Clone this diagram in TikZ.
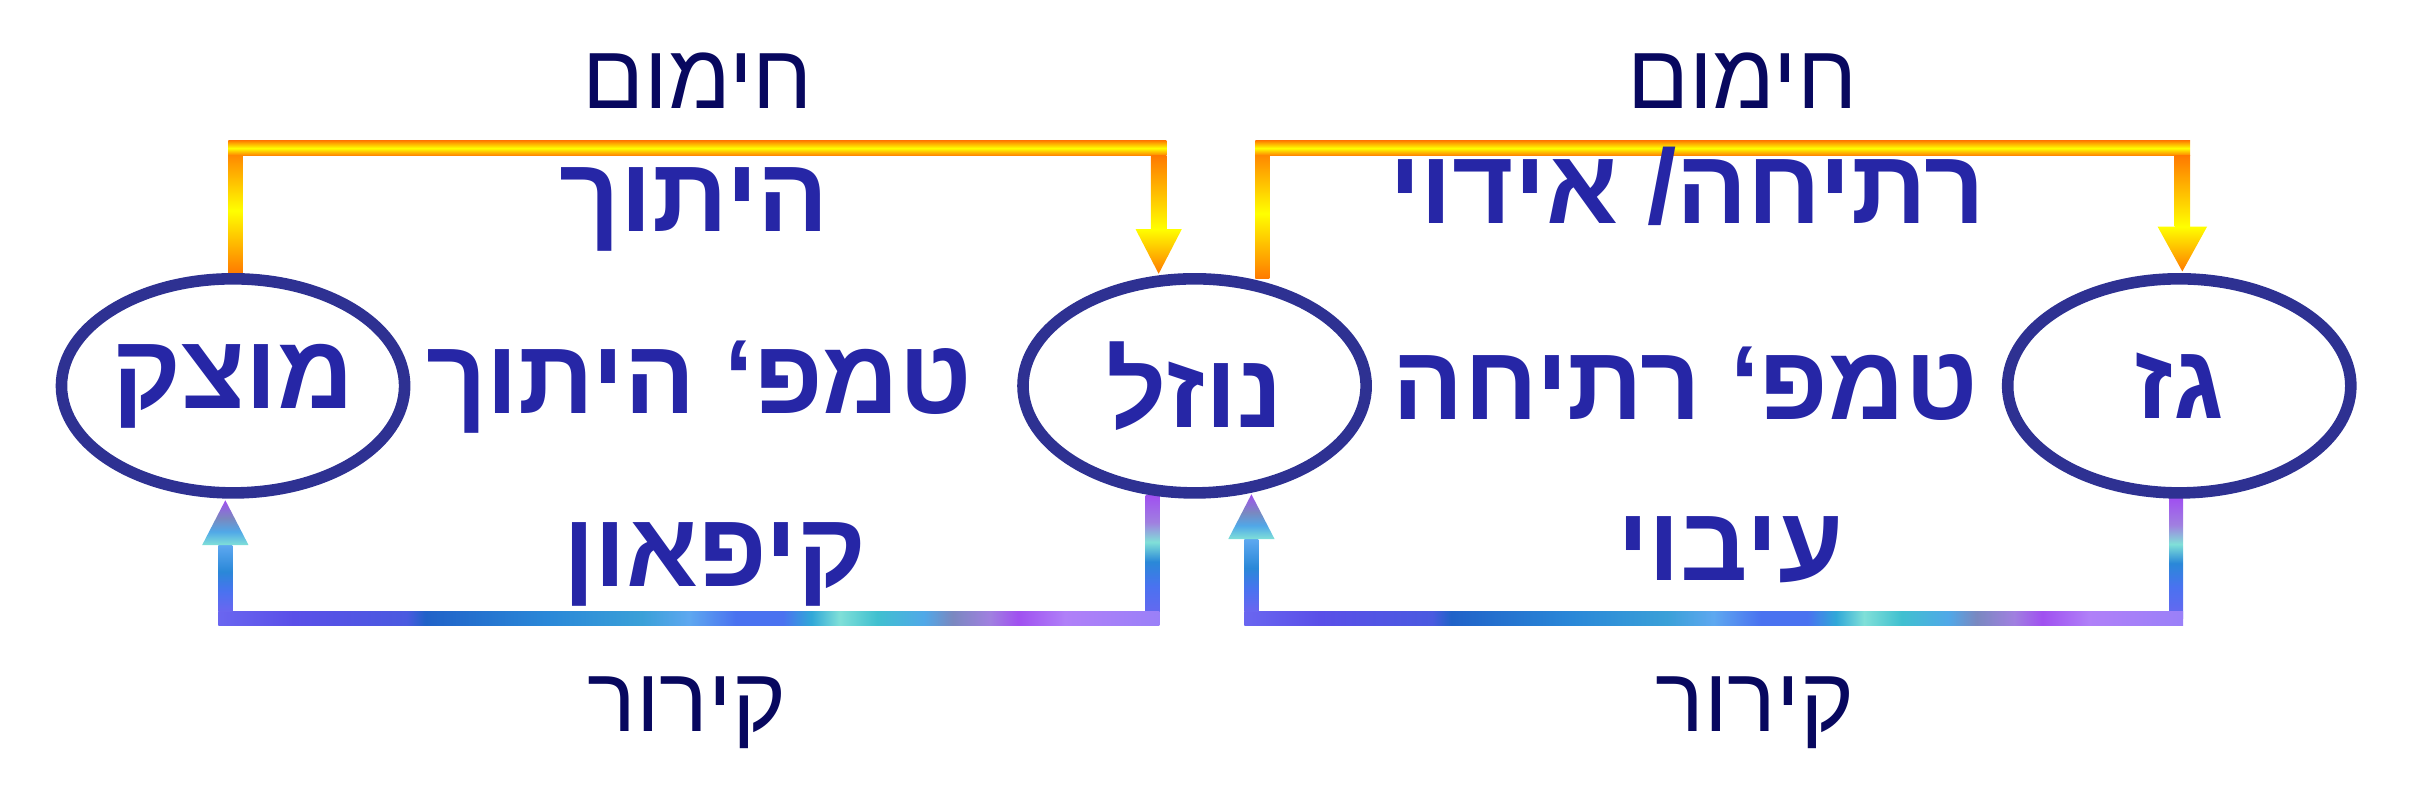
\documentclass[tikz,border=0pt]{standalone}
\usepackage{fontspec}
\newfontfamily\heb[Script=Hebrew]{Liberation Sans}
\TeXXeTstate=1
\usetikzlibrary{calc,shapes.geometric,backgrounds}
\definecolor{ellc}{HTML}{2E3192}
\definecolor{boldc}{HTML}{2626A6}
\definecolor{navyc}{HTML}{08085F}
\definecolor{orng}{HTML}{FF7A00}
\definecolor{yel}{HTML}{FFFF00}
% cool bar colours
\definecolor{b0}{HTML}{6A66F0}
\definecolor{b1}{HTML}{5A4FE8}
\definecolor{b2}{HTML}{4A5AE0}
\definecolor{b3}{HTML}{2062C8}
\definecolor{b4}{HTML}{2A88D8}
\definecolor{b5}{HTML}{3AA0D8}
\definecolor{b6}{HTML}{5EA8F0}
\definecolor{b7}{HTML}{4A72F0}
\definecolor{b8}{HTML}{30A8D8}
\definecolor{b9}{HTML}{80E0D8}
\definecolor{b10}{HTML}{40C0D0}
\definecolor{b11}{HTML}{50A8E8}
\definecolor{b12}{HTML}{7A88C0}
\definecolor{b13}{HTML}{A080E0}
\definecolor{b14}{HTML}{A050F0}
\definecolor{b15}{HTML}{B080F8}
\definecolor{b16}{HTML}{9A80F8}
\pgfdeclarehorizontalshading{coolbar}{100bp}{%
 color(0bp)=(b0); color(25bp)=(b0); color(29bp)=(b1); color(35bp)=(b2);
 color(36bp)=(b3); color(42.5bp)=(b4); color(47.5bp)=(b5); color(50bp)=(b6);
 color(52.5bp)=(b7); color(55bp)=(b7); color(56.5bp)=(b8); color(58bp)=(b9);
 color(60bp)=(b10); color(62.5bp)=(b11); color(64bp)=(b12); color(66bp)=(b13);
 color(67.5bp)=(b14); color(70bp)=(b15); color(75bp)=(b16); color(100bp)=(b16)}
% vertical: 0 = bottom
\pgfdeclareverticalshading{coolup}{100bp}{%
 color(0bp)=(b0); color(25bp)=(b0); color(40bp)=(b7); color(55bp)=(b4);
 color(75bp)=(b6); color(100bp)=(b6)}
\pgfdeclareverticalshading{coolhead}{100bp}{%
 color(0bp)=(b9); color(25bp)=(b9); color(40bp)=(b11); color(55bp)=(b12);
 color(75bp)=(b14); color(100bp)=(b14)}
\pgfdeclareverticalshading{cooldown}{100bp}{%
 color(0bp)=(b0); color(25bp)=(b0); color(38bp)=(b7); color(48bp)=(b4);
 color(56bp)=(b9); color(64bp)=(b13); color(75bp)=(b14); color(100bp)=(b14)}
\begin{document}
\begin{tikzpicture}[x=0.015434cm,y=-0.015434cm,
  stateell/.style={ellipse,draw=ellc,line width=3.3pt,minimum width=3.43cm,
    minimum height=2.14cm,inner sep=0pt,font=\heb\bfseries\fontsize{30}{34}\selectfont,text=boldc},
  boldlbl/.style={anchor=base,inner sep=0pt,font=\heb\bfseries\fontsize{30}{34}\selectfont,text=boldc},
  thinlbl/.style={anchor=base,inner sep=0pt,font=\heb\fontsize{26}{30}\selectfont,text=navyc},
  hotbar/.style={top color=orng,bottom color=orng,middle color=yel},
]
\useasboundingbox (0,0) rectangle (1568,514.4);
% states
\node[stateell] (e1) at (151,250) {\beginR מוצק\endR};
\node[stateell] (e2) at (774,250) {\beginR נוזל\endR};
\node[stateell] (e3) at (1412,250) {\beginR גז\endR};
% labels
\node[thinlbl] (heat1) at (452,70) {\beginR חימום\endR};
\node[boldlbl] (meltup) at (450,150) {\beginR היתוך\endR};
\node[boldlbl] (melt) at (453,268) {\beginR טמפ‘ היתוך\endR};
\node[boldlbl] (freeze) at (463,380) {\beginR קיפאון\endR};
\node[thinlbl] (cool1) at (445,474) {\beginR קירור\endR};
\node[thinlbl] (heat2) at (1129,70) {\beginR חימום\endR};
\node[boldlbl] (boilup) at (1093,145) {\beginR רתיחה/ אידוי\endR};
\node[boldlbl] (boil) at (1092,272) {\beginR טמפ‘ רתיחה\endR};
\node[boldlbl] (cond) at (1121,376) {\beginR עיבוי\endR};
\node[thinlbl] (cool2) at (1137,474) {\beginR קירור\endR};
% levels
\coordinate (topy) at (0,96);
\coordinate (boty) at (0,400.5);
\begin{scope}[on background layer]
% ---- heating: solid -> liquid
\coordinate (a1) at ($(e1.north)+(1.5,0)$);
\coordinate (a2) at (e2.108);
\shade[hotbar] ($(a1)+(-4.5,0)$) rectangle ($(a1|-topy)+(4.5,0)$);
\shade[hotbar] ($(a1|-topy)+(-4.5,-5)$) rectangle ($(a2|-topy)+(5,5)$);
\shade[top color=orng,bottom color=yel] ($(a2|-topy)+(-5,5)$) rectangle ($(a2)+(5,-30)$);
\shade[top color=yel,bottom color=orng] ($(a2)+(-15,-30)$) -- ($(a2)+(15,-30)$) -- ($(a2)+(0,-1)$) -- cycle;
% ---- heating: liquid -> gas
\coordinate (a3) at (e2.57.8);
\coordinate (a4) at ($(e3.north)+(2,0)$);
\shade[hotbar] ($(a3)+(-4.5,-2)$) rectangle ($(a3|-topy)+(4.5,0)$);
\shade[hotbar] ($(a3|-topy)+(-4.5,-5)$) rectangle ($(a4|-topy)+(5,5)$);
\shade[top color=orng,bottom color=yel] ($(a4|-topy)+(-5,5)$) rectangle ($(a4)+(5,-30)$);
\shade[top color=yel,bottom color=orng] ($(a4)+(-16,-30)$) -- ($(a4)+(16,-30)$) -- ($(a4)+(0,-1)$) -- cycle;
% ---- cooling: liquid -> solid
\coordinate (c1) at (e2.-111.2);
\coordinate (c2) at ($(e1.south)+(-5,0)$);
\shade[shading=cooldown] ($(c1)+(-4.5,0)$) rectangle ($(c1|-boty)+(4.5,0)$);
\shade[shading=coolbar] ($(c2|-boty)+(-4.5,-4.5)$) rectangle ($(c1|-boty)+(4.5,4.5)$);
\shade[shading=coolup] ($(c2|-boty)+(-4.5,-4.5)$) rectangle ($(c2)+(4.5,30)$);
\shade[shading=coolhead] ($(c2)+(-15,30)$) -- ($(c2)+(15,30)$) -- ($(c2)+(0,1)$) -- cycle;
% ---- cooling: gas -> liquid
\coordinate (c3) at ($(e3.south)+(-2,0)$);
\coordinate (c4) at (e2.-62.6);
\shade[shading=cooldown] ($(c3)+(-4.5,0)$) rectangle ($(c3|-boty)+(4.5,0)$);
\shade[shading=coolbar] ($(c4|-boty)+(-4.5,-4.5)$) rectangle ($(c3|-boty)+(4.5,4.5)$);
\shade[shading=coolup] ($(c4|-boty)+(-4.5,-4.5)$) rectangle ($(c4)+(4.5,30)$);
\shade[shading=coolhead] ($(c4)+(-15,30)$) -- ($(c4)+(15,30)$) -- ($(c4)+(0,1)$) -- cycle;
\end{scope}
\end{tikzpicture}
\end{document}
